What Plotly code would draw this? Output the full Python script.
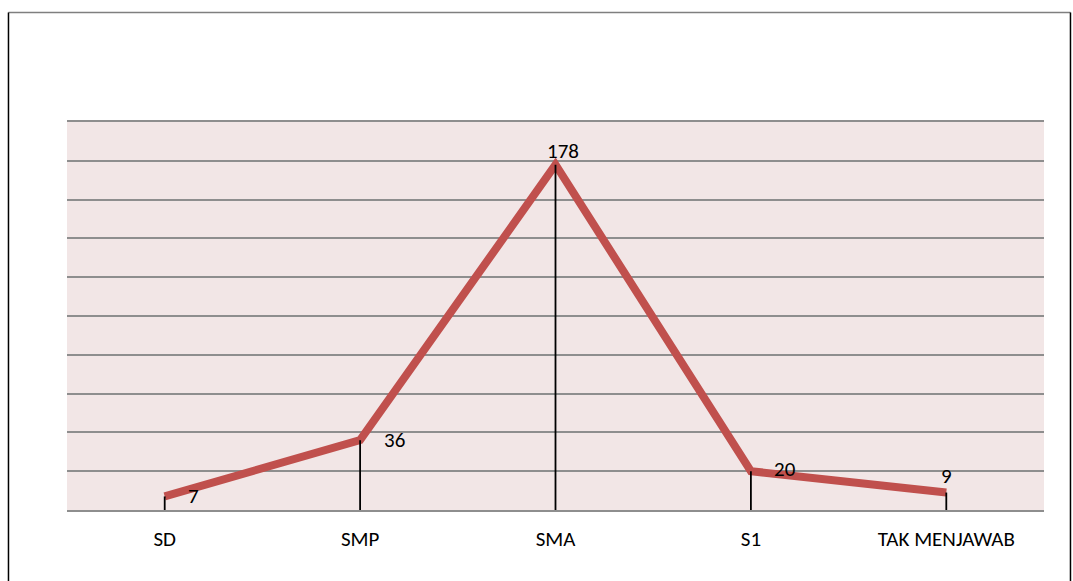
import plotly.graph_objects as go

# Respondent counts by education level
categories = ["SD", "SMP", "SMA", "S1", "TAK MENJAWAB"]
counts = [7, 36, 178, 20, 9]

# Label placement per point: (xanchor, xshift, yshift)
label_pos = [
    ("left", 21, 0),
    ("left", 22, 0),
    ("center", 7, 14),
    ("left", 21, 2),
    ("center", 0, 17),
]

FONT = "Carlito, Calibri, 'Noto Sans', sans-serif"
FONT_SIZE = 21
LINE_COLOR = "#C0504D"
GRID_COLOR = "#8E8E8E"

fig = go.Figure()

idx = list(range(len(categories)))

fig.add_trace(go.Scatter(
    x=idx, y=counts, mode="lines",
    line=dict(color=LINE_COLOR, width=8),
    hoverinfo="skip", showlegend=False,
))

# Drop lines from each point down to the category axis
for i, v in zip(idx, counts):
    fig.add_shape(type="line", xref="x", yref="y",
                  x0=i, x1=i, y0=0, y1=v,
                  line=dict(color="black", width=1.8), layer="above")

# Value labels
for i, v, (xa, xs, ys) in zip(idx, counts, label_pos):
    fig.add_annotation(x=i, y=v, text=str(v), showarrow=False,
                       xanchor=xa, yanchor="middle", xshift=xs, yshift=ys,
                       font=dict(family=FONT, size=FONT_SIZE, color="black"))

# Outer frame of the chart area
fig.add_shape(type="line", xref="paper", yref="paper",
              x0=-0.0599, x1=1.0271, y0=1.2822, y1=1.2822,
              line=dict(color="#7f7f7f", width=1.5))
fig.add_shape(type="line", xref="paper", yref="paper",
              x0=-0.0599, x1=-0.0599, y0=-0.3, y1=1.2822,
              line=dict(color="black", width=1.5))
fig.add_shape(type="line", xref="paper", yref="paper",
              x0=1.0271, x1=1.0271, y0=-0.3, y1=1.2822,
              line=dict(color="black", width=1.5))

fig.update_layout(
    width=1073, height=581,
    margin=dict(l=67, r=29, t=122, b=71),
    paper_bgcolor="white",
    plot_bgcolor="#F2E6E6",
    font=dict(family=FONT, size=FONT_SIZE, color="black"),
    xaxis=dict(
        tickmode="array", tickvals=idx, ticktext=categories,
        range=[-0.5, len(categories) - 0.5],
        showgrid=False, zeroline=False,
        showline=True, mirror=True, linecolor=GRID_COLOR, linewidth=1.5,
        ticks="", ticklabelstandoff=9,
        tickfont=dict(family=FONT, size=FONT_SIZE),
    ),
    yaxis=dict(
        range=[0, 200], dtick=20,
        showgrid=True, gridcolor=GRID_COLOR, gridwidth=1.5,
        zeroline=False, showline=False, showticklabels=False, ticks="",
    ),
)

fig.write_html("out.html")
